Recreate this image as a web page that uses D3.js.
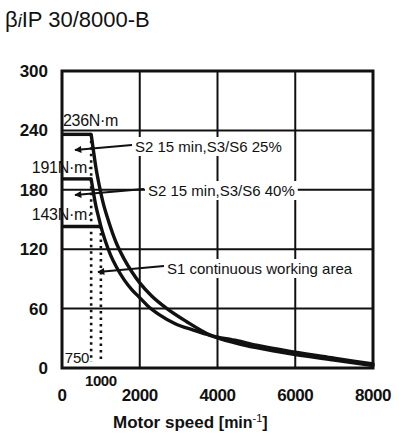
<!DOCTYPE html>
<html><head><meta charset="utf-8">
<script src="https://cdn.jsdelivr.net/npm/d3@7"></script>
<style>body{margin:0;background:#fff}svg{display:block}</style>
</head><body>
<svg id="c" width="399" height="440"></svg>
<script>
// ---- data ----
const yTicks = [0, 60, 120, 180, 240, 300];
const xTicks = [0, 2000, 4000, 6000, 8000];
const s25Speed  = [0, 750, 800, 870, 950, 1050, 1200, 1400, 1600, 1800, 2000, 2300, 2700, 3200, 3800, 4500, 5000, 6000, 7000, 8000];
const s25Torque = [236, 236, 222, 203, 186, 168, 148, 126, 110, 97, 86, 73, 60, 47, 33.5, 25, 20.5, 13.5, 8, 2.5];
const s40Speed  = [0, 750, 800, 870, 950, 1000, 1100, 1250, 1400, 1600, 1800, 2000, 2200, 2500, 2900, 3400, 3800, 4500, 5000, 6000, 7000, 8000];
const s40Torque = [191, 191, 179, 164, 151, 143, 130, 114, 102, 89, 79, 71, 63, 54, 45, 38, 33, 27.5, 23, 16, 10, 4];
const s1Speed  = [0, 1000];
const s1Torque = [143, 143];
const dotSpeed = [750, 1000];
const dotTorque = [236, 143];
const ratedText = ["236N·m", "191N·m·", "143N·m·"];
const ratedTorque = [236, 191, 143];
const cornerSpeedText = ["750", "1000"];
const annText = ["S2 15 min,S3/S6 25%", "S2 15 min,S3/S6 40%", "S1 continuous working area"];

// ---- drawing ----
const svg = d3.select("#c");
const F = "'Liberation Sans', Arial, sans-serif";
const x = d3.scaleLinear().domain([0, 8000]).range([62, 373]);
const y = d3.scaleLinear().domain([0, 300]).range([368, 71]);

// title
const t = svg.append("text").attr("x", 5).attr("y", 27).attr("font-family", F).attr("font-size", 22).attr("fill", "#111");
t.append("tspan").text("β");
t.append("tspan").attr("font-style", "italic").attr("font-size", 18).text("i");
t.append("tspan").text("IP 30/8000-B");

// grid
const g = svg.append("g");
g.selectAll(".hg").data(yTicks.filter(d => d > 0 && d < 300)).join("line")
  .attr("x1", x(0)).attr("x2", x(8000)).attr("y1", d => y(d)).attr("y2", d => y(d))
  .attr("stroke", "#111").attr("stroke-width", 2);
g.selectAll(".vg").data(xTicks.filter(d => d > 0 && d < 8000)).join("line")
  .attr("y1", y(0)).attr("y2", y(300)).attr("x1", d => x(d)).attr("x2", d => x(d))
  .attr("stroke", "#111").attr("stroke-width", 2);

// annotations
const ann = [
  {t: annText[0], x: 135, y: 152, ax1: 132, ay1: 145, ax2: 75, ay2: 150},
  {t: annText[1], x: 148, y: 196, ax1: 144, ay1: 189, ax2: 75, ay2: 195},
  {t: annText[2], x: 167, y: 274, ax1: 164, ay1: 266, ax2: 98, ay2: 272}
];
const annG = svg.append("g");
ann.forEach(a => {
  const tx = annG.append("text").attr("x", a.x).attr("y", a.y).attr("font-family", F)
    .attr("font-size", 15).attr("fill", "#111").text(a.t);
  const b = tx.node().getBBox();
  annG.insert("rect", "text").attr("x", b.x - 3).attr("y", b.y - 1).attr("width", b.width + 6).attr("height", b.height + 2).attr("fill", "#fff");
});

// dotted lines
svg.selectAll(".dot").data(dotSpeed).join("line")
  .attr("x1", d => x(d)).attr("x2", d => x(d))
  .attr("y1", (d, i) => y(dotTorque[i])).attr("y2", y(0) - 6)
  .attr("stroke", "#111").attr("stroke-width", 2.6).attr("stroke-dasharray", "2.5,4");

// curves
const line = d3.line().x(d => x(d[0])).y(d => y(d[1]));
const curve = d3.line().x(d => x(d[0])).y(d => y(d[1])).curve(d3.curveMonotoneX);
function drawSeries(sp, tq, corner) {
  const pts = sp.map((s, i) => [s, tq[i]]);
  const k = sp.indexOf(corner);
  svg.append("path").attr("d", line(pts.slice(0, k + 1))).attr("fill", "none").attr("stroke", "#111").attr("stroke-width", 3.4);
  if (k < pts.length - 1)
    svg.append("path").attr("d", curve(pts.slice(k))).attr("fill", "none").attr("stroke", "#111").attr("stroke-width", 3.4).attr("stroke-linecap", "round");
}
drawSeries(s25Speed, s25Torque, 750);
drawSeries(s40Speed, s40Torque, 750);
drawSeries(s1Speed, s1Torque, 1000);

// frame
svg.append("rect").attr("x", x(0)).attr("y", y(300)).attr("width", x(8000) - x(0)).attr("height", y(0) - y(300))
  .attr("fill", "none").attr("stroke", "#111").attr("stroke-width", 3);

// arrows
svg.append("defs").append("marker").attr("id", "ah").attr("viewBox", "0 0 10 10").attr("refX", 9).attr("refY", 5)
  .attr("markerWidth", 9).attr("markerHeight", 7).attr("markerUnits", "userSpaceOnUse").attr("orient", "auto")
  .append("path").attr("d", "M0,0L10,5L0,10z").attr("fill", "#111");
ann.forEach(a => {
  svg.append("line").attr("x1", a.ax1).attr("y1", a.ay1).attr("x2", a.ax2).attr("y2", a.ay2)
    .attr("stroke", "#111").attr("stroke-width", 2.2).attr("marker-end", "url(#ah)");
});
annG.raise();

// axis tick labels
svg.selectAll(".yl").data(yTicks).join("text").attr("x", 48).attr("y", d => y(d) + 6)
  .attr("text-anchor", "end").attr("font-family", F).attr("font-weight", "bold").attr("font-size", 17)
  .attr("fill", "#111").text(d => d);
svg.selectAll(".xl").data(xTicks).join("text").attr("x", d => x(d)).attr("y", 401)
  .attr("text-anchor", "middle").attr("font-family", F).attr("font-weight", "bold").attr("font-size", 17)
  .attr("letter-spacing", -0.5).attr("fill", "#111").text(d => d);

// rated torque labels
svg.append("text").attr("x", 63).attr("y", y(ratedTorque[0]) - 8).attr("font-family", F).attr("font-size", 16)
  .attr("letter-spacing", -0.3).attr("fill", "#111").text(ratedText[0]);
[1, 2].forEach(i => {
  svg.append("text").attr("x", 92).attr("y", y(ratedTorque[i]) - 6).attr("text-anchor", "end").attr("font-family", F)
    .attr("font-size", 16).attr("letter-spacing", -0.3).attr("fill", "#111").text(ratedText[i]);
});

// corner speed labels
svg.append("text").attr("x", 89).attr("y", 363).attr("text-anchor", "end").attr("font-family", F).attr("font-size", 15)
  .attr("letter-spacing", -0.3).attr("fill", "#111").text(cornerSpeedText[0]);
svg.append("text").attr("x", x(1000)).attr("y", 386).attr("text-anchor", "middle").attr("font-family", F).attr("font-size", 15)
  .attr("letter-spacing", -0.4).attr("fill", "#111").attr("font-weight", "bold").text(cornerSpeedText[1]);

// x axis title
const xt = svg.append("text").attr("x", 113).attr("y", 428).attr("font-family", F).attr("fill", "#111");
xt.append("tspan").attr("font-weight", "bold").attr("font-size", 17).text("Motor speed ");
xt.append("tspan").attr("font-size", 16).attr("font-weight", "bold").text("[min");
xt.append("tspan").attr("font-size", 11).attr("dy", -6).text("-1");
xt.append("tspan").attr("font-size", 16).attr("dy", 6).attr("font-weight", "bold").text("]");
</script>
</body></html>
